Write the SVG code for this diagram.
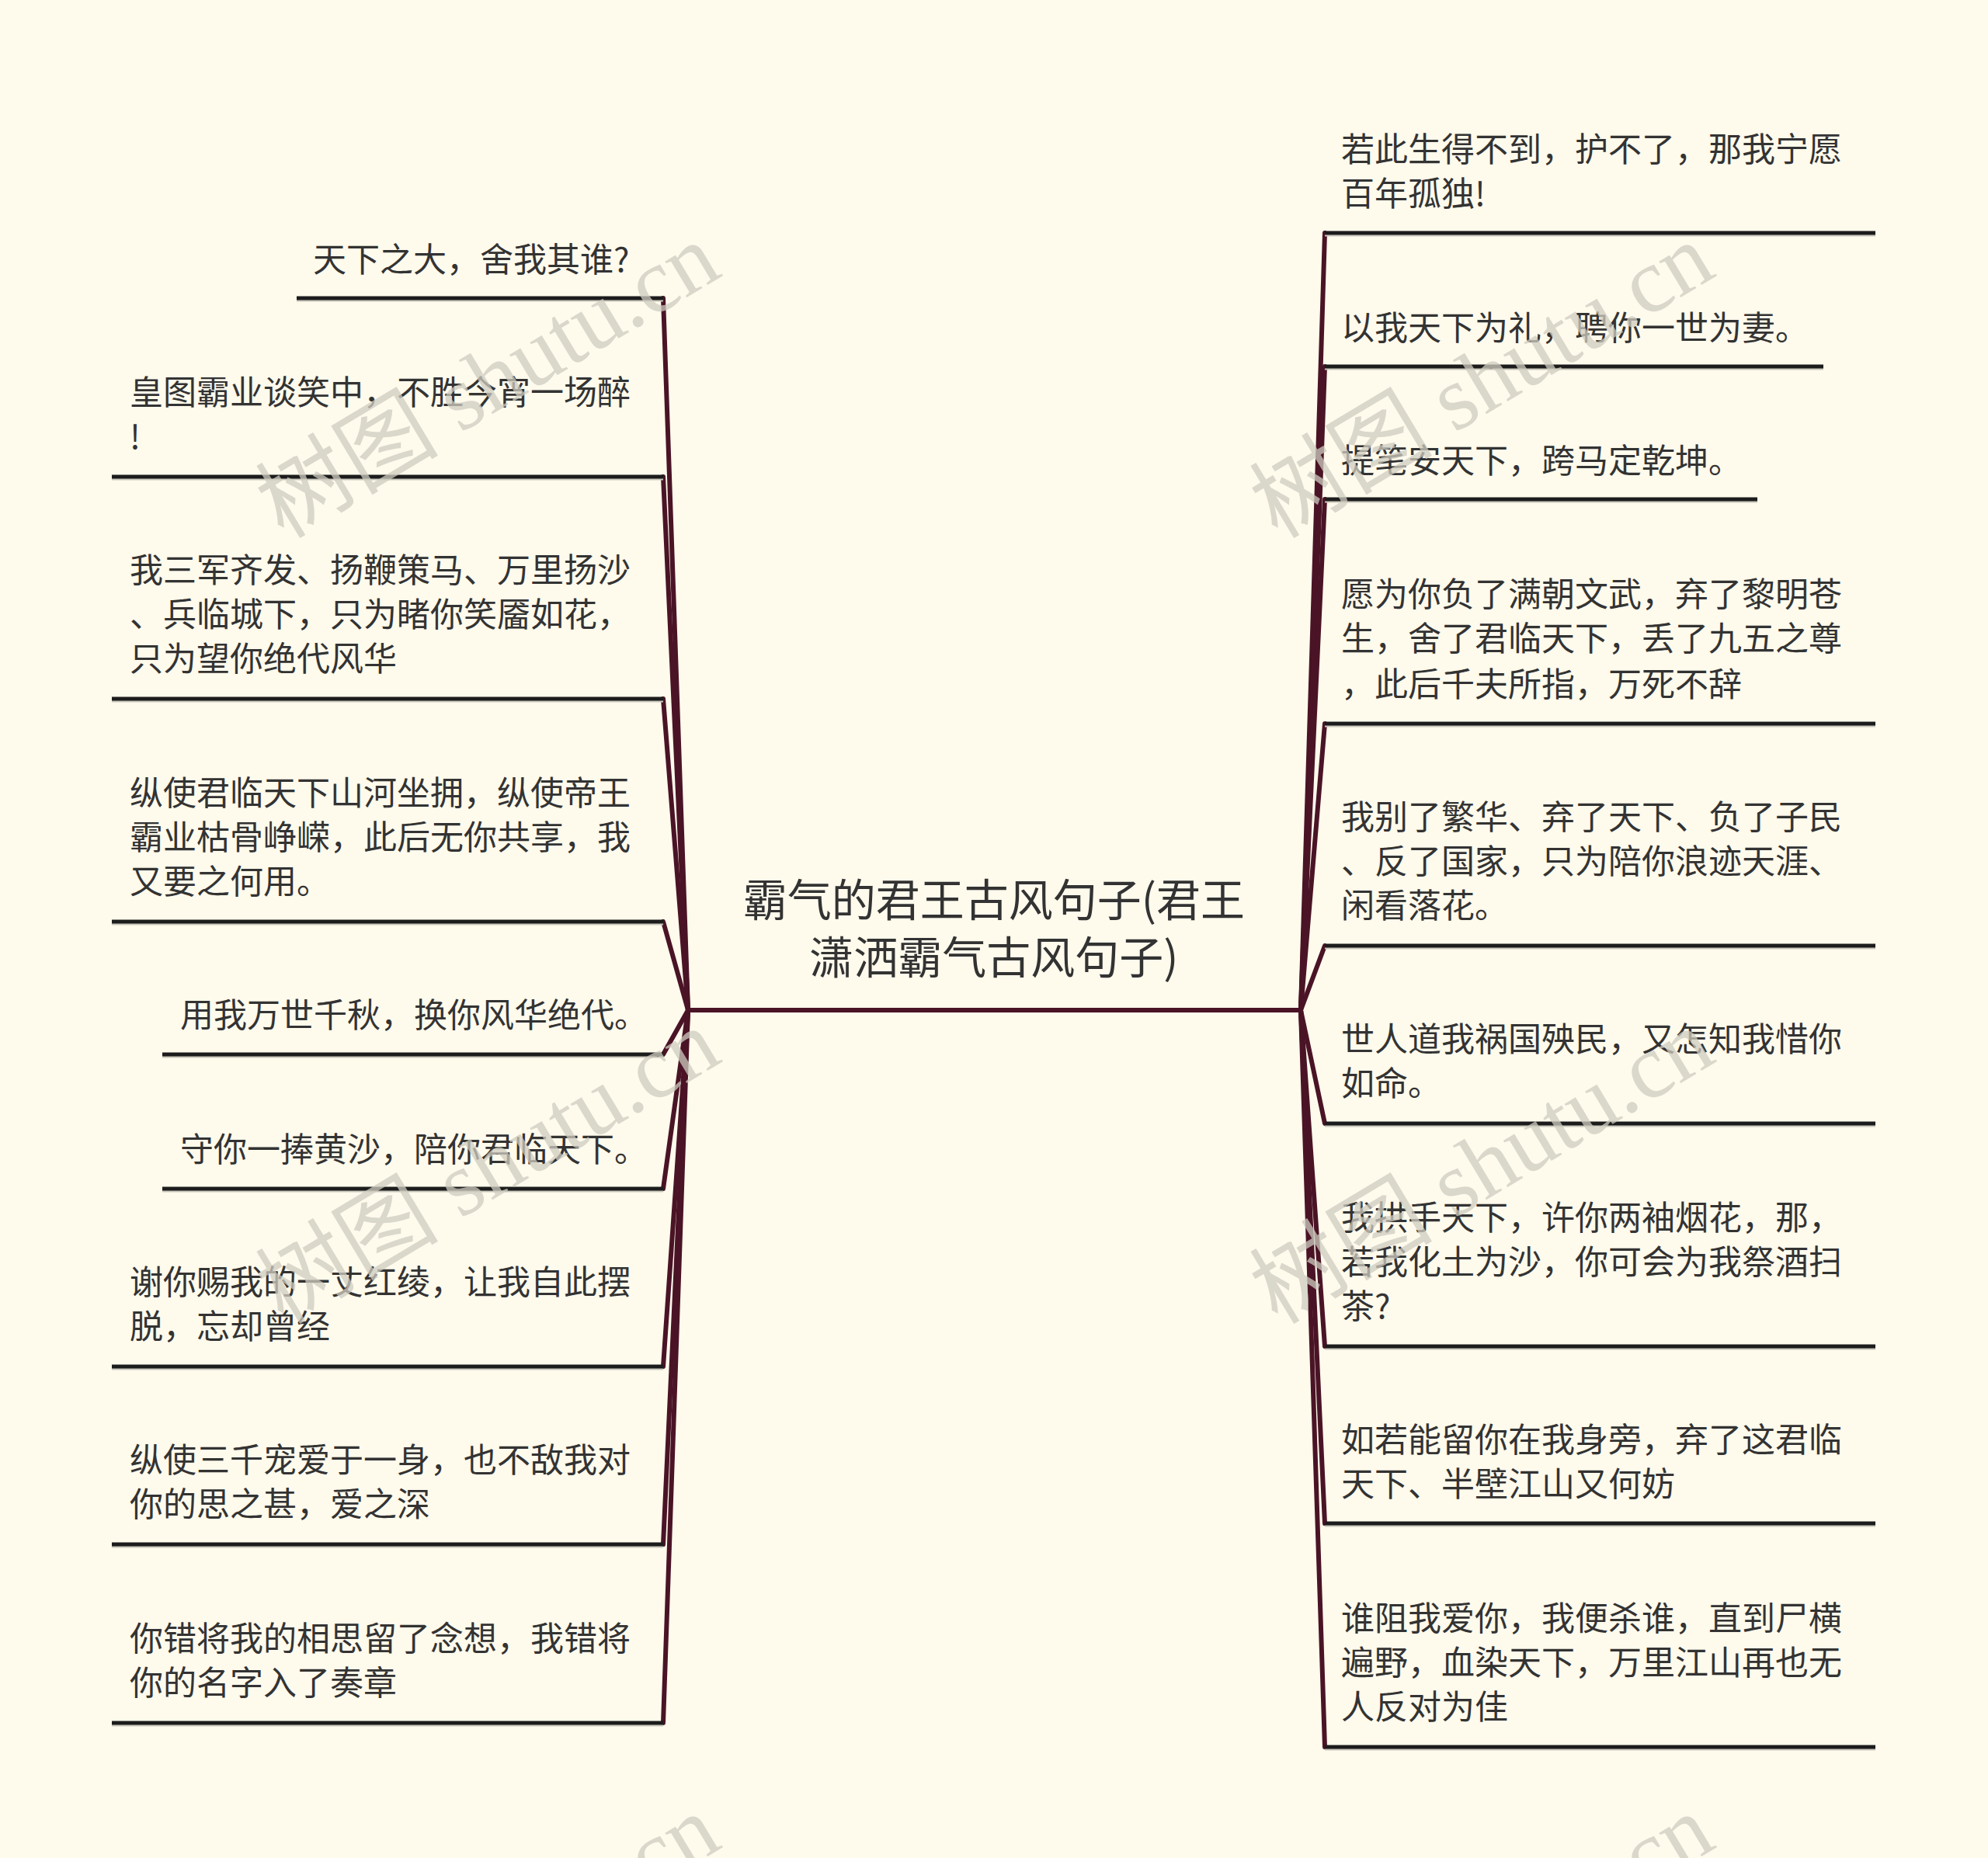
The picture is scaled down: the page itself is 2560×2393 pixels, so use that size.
<svg xmlns="http://www.w3.org/2000/svg" width="2560" height="2393" viewBox="0 0 2560 2393">
<style>
.bg{fill:#fefaec}
.t{font-family:"Noto Sans CJK SC","Noto Sans",sans-serif;font-size:43px;fill:#333333}
.ct{font-family:"Noto Sans CJK SC","Noto Sans",sans-serif;font-size:57px;fill:#333333;text-anchor:middle}
.ul{stroke:#1c1c1c;stroke-width:5;fill:none}
.sh{stroke:#c9c6bb;stroke-width:3;fill:none}
.cn{stroke:#4a1426;stroke-width:6;fill:none;stroke-linecap:round}
.wm{font-family:"Liberation Serif","Noto Sans CJK SC",serif;font-size:118px;fill:#cfccc0;opacity:0.75}
</style>
<rect class="bg" x="0" y="0" width="2560" height="2393"/>
<g id="connectors">
<line class="cn" x1="886" y1="1301" x2="1675" y2="1301"/>
<line class="cn" x1="886" y1="1301" x2="854" y2="384"/>
<line class="cn" x1="886" y1="1301" x2="854" y2="614"/>
<line class="cn" x1="886" y1="1301" x2="854" y2="900"/>
<line class="cn" x1="886" y1="1301" x2="854" y2="1187"/>
<line class="cn" x1="886" y1="1301" x2="854" y2="1358"/>
<line class="cn" x1="886" y1="1301" x2="854" y2="1531"/>
<line class="cn" x1="886" y1="1301" x2="854" y2="1760"/>
<line class="cn" x1="886" y1="1301" x2="854" y2="1989"/>
<line class="cn" x1="886" y1="1301" x2="854" y2="2219"/>
<line class="cn" x1="1675" y1="1301" x2="1706" y2="300"/>
<line class="cn" x1="1675" y1="1301" x2="1706" y2="472"/>
<line class="cn" x1="1675" y1="1301" x2="1706" y2="643"/>
<line class="cn" x1="1675" y1="1301" x2="1706" y2="932"/>
<line class="cn" x1="1675" y1="1301" x2="1706" y2="1218"/>
<line class="cn" x1="1675" y1="1301" x2="1706" y2="1447"/>
<line class="cn" x1="1675" y1="1301" x2="1706" y2="1734"/>
<line class="cn" x1="1675" y1="1301" x2="1706" y2="1962"/>
<line class="cn" x1="1675" y1="1301" x2="1706" y2="2250"/>
</g>
<g id="center">
<text class="ct" x="1280" y="1180">霸气的君王古风句子(君王</text>
<text class="ct" x="1280" y="1254">潇洒霸气古风句子)</text>
</g>
<g id="L1"><line class="sh" x1="382" y1="387" x2="854" y2="387"/><line class="ul" x1="382" y1="384" x2="854" y2="384"/><text class="t" x="403" y="350">天下之大，舍我其谁?</text></g>
<g id="L2"><line class="sh" x1="144" y1="617" x2="854" y2="617"/><line class="ul" x1="144" y1="614" x2="854" y2="614"/><text class="t" x="167" y="521">皇图霸业谈笑中，不胜今宵一场醉</text><text class="t" x="167" y="578">!</text></g>
<g id="L3"><line class="sh" x1="144" y1="903" x2="854" y2="903"/><line class="ul" x1="144" y1="900" x2="854" y2="900"/><text class="t" x="167" y="750">我三军齐发、扬鞭策马、万里扬沙</text><text class="t" x="167" y="807">、兵临城下，只为睹你笑靥如花，</text><text class="t" x="167" y="864">只为望你绝代风华</text></g>
<g id="L4"><line class="sh" x1="144" y1="1190" x2="854" y2="1190"/><line class="ul" x1="144" y1="1187" x2="854" y2="1187"/><text class="t" x="167" y="1037">纵使君临天下山河坐拥，纵使帝王</text><text class="t" x="167" y="1094">霸业枯骨峥嵘，此后无你共享，我</text><text class="t" x="167" y="1151">又要之何用。</text></g>
<g id="L5"><line class="sh" x1="209" y1="1361" x2="854" y2="1361"/><line class="ul" x1="209" y1="1358" x2="854" y2="1358"/><text class="t" x="232" y="1323">用我万世千秋，换你风华绝代。</text></g>
<g id="L6"><line class="sh" x1="209" y1="1534" x2="854" y2="1534"/><line class="ul" x1="209" y1="1531" x2="854" y2="1531"/><text class="t" x="232" y="1496">守你一捧黄沙，陪你君临天下。</text></g>
<g id="L7"><line class="sh" x1="144" y1="1763" x2="854" y2="1763"/><line class="ul" x1="144" y1="1760" x2="854" y2="1760"/><text class="t" x="167" y="1667">谢你赐我的一丈红绫，让我自此摆</text><text class="t" x="167" y="1724">脱，忘却曾经</text></g>
<g id="L8"><line class="sh" x1="144" y1="1992" x2="854" y2="1992"/><line class="ul" x1="144" y1="1989" x2="854" y2="1989"/><text class="t" x="167" y="1896">纵使三千宠爱于一身，也不敌我对</text><text class="t" x="167" y="1953">你的思之甚，爱之深</text></g>
<g id="L9"><line class="sh" x1="144" y1="2222" x2="854" y2="2222"/><line class="ul" x1="144" y1="2219" x2="854" y2="2219"/><text class="t" x="167" y="2126">你错将我的相思留了念想，我错将</text><text class="t" x="167" y="2183">你的名字入了奏章</text></g>
<g id="R1"><line class="sh" x1="1706" y1="303" x2="2415" y2="303"/><line class="ul" x1="1706" y1="300" x2="2415" y2="300"/><text class="t" x="1727" y="208">若此生得不到，护不了，那我宁愿</text><text class="t" x="1727" y="265">百年孤独!</text></g>
<g id="R2"><line class="sh" x1="1706" y1="475" x2="2348" y2="475"/><line class="ul" x1="1706" y1="472" x2="2348" y2="472"/><text class="t" x="1727" y="438">以我天下为礼，聘你一世为妻。</text></g>
<g id="R3"><line class="sh" x1="1706" y1="646" x2="2263" y2="646"/><line class="ul" x1="1706" y1="643" x2="2263" y2="643"/><text class="t" x="1727" y="609">提笔安天下，跨马定乾坤。</text></g>
<g id="R4"><line class="sh" x1="1706" y1="935" x2="2415" y2="935"/><line class="ul" x1="1706" y1="932" x2="2415" y2="932"/><text class="t" x="1727" y="781">愿为你负了满朝文武，弃了黎明苍</text><text class="t" x="1727" y="838">生，舍了君临天下，丢了九五之尊</text><text class="t" x="1727" y="897">，此后千夫所指，万死不辞</text></g>
<g id="R5"><line class="sh" x1="1706" y1="1221" x2="2415" y2="1221"/><line class="ul" x1="1706" y1="1218" x2="2415" y2="1218"/><text class="t" x="1727" y="1068">我别了繁华、弃了天下、负了子民</text><text class="t" x="1727" y="1125">、反了国家，只为陪你浪迹天涯、</text><text class="t" x="1727" y="1182">闲看落花。</text></g>
<g id="R6"><line class="sh" x1="1706" y1="1450" x2="2415" y2="1450"/><line class="ul" x1="1706" y1="1447" x2="2415" y2="1447"/><text class="t" x="1727" y="1354">世人道我祸国殃民，又怎知我惜你</text><text class="t" x="1727" y="1411">如命。</text></g>
<g id="R7"><line class="sh" x1="1706" y1="1737" x2="2415" y2="1737"/><line class="ul" x1="1706" y1="1734" x2="2415" y2="1734"/><text class="t" x="1727" y="1584">我拱手天下，许你两袖烟花，那，</text><text class="t" x="1727" y="1641">若我化土为沙，你可会为我祭酒扫</text><text class="t" x="1727" y="1698">茶?</text></g>
<g id="R8"><line class="sh" x1="1706" y1="1965" x2="2415" y2="1965"/><line class="ul" x1="1706" y1="1962" x2="2415" y2="1962"/><text class="t" x="1727" y="1870">如若能留你在我身旁，弃了这君临</text><text class="t" x="1727" y="1927">天下、半壁江山又何妨</text></g>
<g id="R9"><line class="sh" x1="1706" y1="2253" x2="2415" y2="2253"/><line class="ul" x1="1706" y1="2250" x2="2415" y2="2250"/><text class="t" x="1727" y="2100">谁阻我爱你，我便杀谁，直到尸横</text><text class="t" x="1727" y="2157">遍野，血染天下，万里江山再也无</text><text class="t" x="1727" y="2214">人反对为佳</text></g>
<g id="watermarks">
<text class="wm" transform="translate(365,695) rotate(-31)">树图 shutu.cn</text>
<text class="wm" transform="translate(365,1707) rotate(-31)">树图 shutu.cn</text>
<text class="wm" transform="translate(365,2719) rotate(-31)">树图 shutu.cn</text>
<text class="wm" transform="translate(1645,695) rotate(-31)">树图 shutu.cn</text>
<text class="wm" transform="translate(1645,1707) rotate(-31)">树图 shutu.cn</text>
<text class="wm" transform="translate(1645,2719) rotate(-31)">树图 shutu.cn</text>
</g>
</svg>
